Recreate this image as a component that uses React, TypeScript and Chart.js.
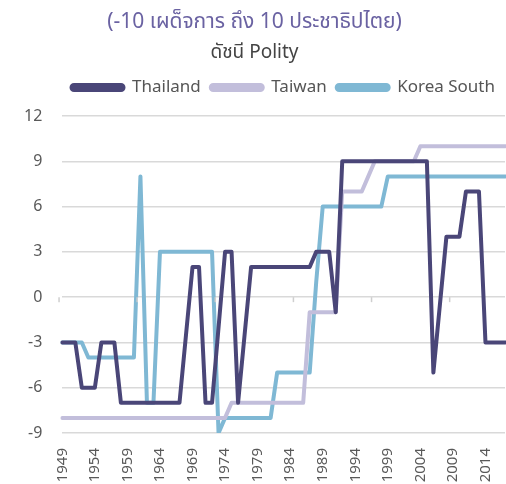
import React, { useEffect, useRef } from "react";
import { Chart, registerables } from "chart.js";

Chart.register(...registerables);

const years: string[] = [];
for (let y = 1949; y <= 2017; y++) years.push(String(y));

const thailand = [
  -3, -3, -3, -6, -6, -6, -3, -3, -3, -7,
  -7, -7, -7, -7, -7, -7, -7, -7, -7, -2.5,
  2, 2, -7, -7, -2, 3, 3, -7, -2.5, 2,
  2, 2, 2, 2, 2, 2, 2, 2, 2, 3,
  3, 3, -1, 9, 9, 9, 9, 9, 9, 9,
  9, 9, 9, 9, 9, 9, 9, -5, -0.5, 4,
  4, 4, 7, 7, 7, -3, -3, -3, -3,
];

const taiwan = [
  -8, -8, -8, -8, -8, -8, -8, -8, -8, -8,
  -8, -8, -8, -8, -8, -8, -8, -8, -8, -8,
  -8, -8, -8, -8, -8, -8, -7, -7, -7, -7,
  -7, -7, -7, -7, -7, -7, -7, -7, -1, -1,
  -1, -1, -1, 7, 7, 7, 7, 8, 9, 9,
  9, 9, 9, 9, 9, 10, 10, 10, 10, 10,
  10, 10, 10, 10, 10, 10, 10, 10, 10,
];

const koreaSouth = [
  -3, -3, -3, -3, -4, -4, -4, -4, -4, -4,
  -4, -4, 8, -7, -7, 3, 3, 3, 3, 3,
  3, 3, 3, 3, -9, -8, -8, -8, -8, -8,
  -8, -8, -8, -5, -5, -5, -5, -5, -5, 1,
  6, 6, 6, 6, 6, 6, 6, 6, 6, 6,
  8, 8, 8, 8, 8, 8, 8, 8, 8, 8,
  8, 8, 8, 8, 8, 8, 8, 8, 8,
];

const seriesNames = ["Thailand", "Taiwan", "Korea South"];
const seriesColors = ["#4a4678", "#c2bedb", "#7fb8d4"];
const titleText = "(-10 เผด็จการ ถึง 10 ประชาธิปไตย)";
const subtitleText = "ดัชนี Polity";
const labelStep = 5;

const FONT = '"Noto Sans", "Noto Sans Thai", "Loma", "Garuda", "DejaVu Sans", sans-serif';

const zeroTicks = {
  id: "zeroTicks",
  afterDatasetsDraw(chart: any) {
    const x = chart.scales.x;
    const y = chart.scales.y;
    const ctx = chart.ctx;
    const y0 = y.getPixelForValue(0);
    ctx.save();
    ctx.strokeStyle = "#cfcfcf";
    ctx.lineWidth = 1.5;
    for (let v = -0.5; v < years.length; v += 12) {
      const px = x.getPixelForValue(v);
      ctx.beginPath();
      ctx.moveTo(px, y0);
      ctx.lineTo(px, y0 + 5);
      ctx.stroke();
    }
    ctx.restore();
  },
};

const verticalXLabels = {
  id: "verticalXLabels",
  afterDraw(chart: any) {
    const x = chart.scales.x;
    const ctx = chart.ctx;
    const top = chart.chartArea.bottom + 15;
    ctx.save();
    ctx.fillStyle = "#595959";
    ctx.font = `15px ${FONT}`;
    ctx.textAlign = "right";
    ctx.textBaseline = "middle";
    years.forEach((lab, i) => {
      if (i % labelStep !== 0) return;
      const px = x.getPixelForValue(i);
      ctx.save();
      ctx.translate(px, top);
      ctx.rotate(-Math.PI / 2);
      ctx.fillText(lab, 0, 0);
      ctx.restore();
    });
    ctx.restore();
  },
};

const legendSpacing = {
  id: "legendSpacing",
  beforeInit(chart: any) {
    const legend = chart.legend;
    if (!legend) return;
    const orig = legend.fit;
    legend.fit = function () {
      orig.call(this);
      this.height += 10;
    };
  },
};

export default function App() {
  const ref = useRef<HTMLCanvasElement | null>(null);
  useEffect(() => {
    document.body.style.margin = "0";
    const data = [thailand, taiwan, koreaSouth];
    const chart = new Chart(ref.current as HTMLCanvasElement, {
      type: "line",
      data: {
        labels: years,
        datasets: seriesNames.map((n, i) => ({
          label: n,
          data: data[i],
          borderColor: seriesColors[i],
          backgroundColor: seriesColors[i],
          borderWidth: 4,
          pointRadius: 0,
          tension: 0,
          borderJoinStyle: "round" as const,
          borderCapStyle: "round" as const,
        })),
      },
      options: {
        animation: false,
        responsive: false,
        layout: { padding: { left: 4, right: 1, top: 2, bottom: 43 } },
        plugins: {
          title: {
            display: true,
            text: titleText,
            color: "#6a62a2",
            font: { family: FONT, size: 21, weight: "normal" },
            padding: { top: 7.5, bottom: 6.5 },
          },
          subtitle: {
            display: true,
            text: subtitleText,
            color: "#444444",
            font: { family: FONT, size: 19, weight: "normal" },
            padding: { top: 0, bottom: 5 },
          },
          legend: {
            display: true,
            position: "top",
            align: "end",
            labels: {
              boxWidth: 52,
              boxHeight: 5,
              useBorderRadius: true,
              borderRadius: 2.5,
              color: "#555555",
              font: { family: FONT, size: 17 },
              padding: 10,
            },
          },
          tooltip: { enabled: false },
        },
        scales: {
          x: {
            grid: { display: false },
            border: { display: false },
            ticks: { display: false },
          },
          y: {
            min: -9,
            max: 12,
            border: { display: false },
            grid: { color: "#d9d9d9", lineWidth: 1.5, drawTicks: false },
            ticks: {
              stepSize: 3,
              color: "#595959",
              font: { family: FONT, size: 16 },
              padding: 20,
            },
          },
        },
      },
      plugins: [zeroTicks, verticalXLabels, legendSpacing],
    });
    return () => chart.destroy();
  }, []);
  return (
    <div style={{ position: "absolute", left: 0, top: 0, width: 506, height: 484 }}>
      <canvas ref={ref} width={506} height={484} />
    </div>
  );
}
